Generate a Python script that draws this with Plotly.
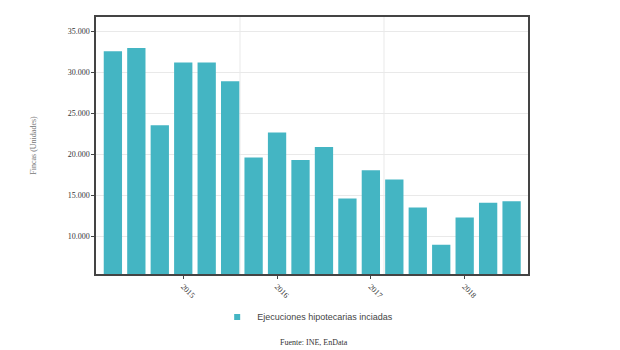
import plotly.graph_objects as go

quarters = ["2014T1", "2014T2", "2014T3", "2014T4",
            "2015T1", "2015T2", "2015T3", "2015T4",
            "2016T1", "2016T2", "2016T3", "2016T4",
            "2017T1", "2017T2", "2017T3", "2017T4",
            "2018T1", "2018T2"]
ejecuciones = [32560, 32960, 23540, 31180, 31180, 28900,
               19580, 22650, 19300, 20880, 14580, 18020,
               16910, 13500, 8940, 12280, 14080, 14240]
tick_cats = ["2014T4", "2015T4", "2016T4", "2017T4"]
tick_labels = ["2015", "2016", "2017", "2018"]
y_ticks = [10000, 15000, 20000, 25000, 30000, 35000]
series_name = "Ejecuciones hipotecarias inciadas"
bar_color = "#44B5C3"

fig = go.Figure()
fig.add_trace(go.Bar(
    x=quarters, y=ejecuciones,
    name=series_name,
    marker=dict(color=bar_color, line=dict(width=0)),
    showlegend=False,
))
# legend entry with a small square marker
fig.add_trace(go.Scatter(
    x=[None], y=[None], mode="markers", name=series_name,
    marker=dict(symbol="square", size=6, color=bar_color),
    showlegend=True,
))

grid = "#e9e9e9"
for fx in (1/3, 2/3):
    fig.add_shape(type="line", xref="x domain", yref="y domain",
                  x0=fx, x1=fx, y0=0, y1=1, layer="below",
                  line=dict(color=grid, width=1))

fig.update_layout(
    width=620, height=350,
    margin=dict(l=96, r=92, t=17, b=76, autoexpand=False),
    paper_bgcolor="white", plot_bgcolor="white",
    separators=",.",
    bargap=0.22,
    font=dict(family="Liberation Serif", size=8, color="#333"),
    xaxis=dict(
        type="category", range=[-0.72, 17.7],
        tickmode="array", tickvals=tick_cats, ticktext=tick_labels,
        tickangle=45, ticks="outside", ticklen=3, tickcolor="#444",
        showgrid=False, showline=True, linecolor="#444", linewidth=1.5,
        mirror=True, tickfont=dict(size=8, color="#333"),
    ),
    yaxis=dict(
        range=[5370, 36740], tickvals=y_ticks, tickformat=",d",
        ticks="outside", ticklen=3, tickcolor="#444",
        showgrid=True, gridcolor=grid, gridwidth=1, zeroline=False,
        showline=True, linecolor="#444", linewidth=1.5, mirror=True,
        tickfont=dict(size=8, color="#333"),
        title=dict(text="Fincas (Unidades)", standoff=30,
                   font=dict(size=8, color="#777")),
    ),
    legend=dict(orientation="h", x=0.49, xanchor="center",
                y=-0.167, yanchor="middle",
                font=dict(family="Liberation Sans", size=9, color="#444"),
                itemwidth=30),
    annotations=[dict(text="Fuente: INE, EnData", xref="paper", yref="paper",
                      x=0.505, y=-0.29, yanchor="bottom", xanchor="center",
                      showarrow=False,
                      font=dict(family="Liberation Serif", size=8, color="#333"))],
)

fig.write_html("out.html")
